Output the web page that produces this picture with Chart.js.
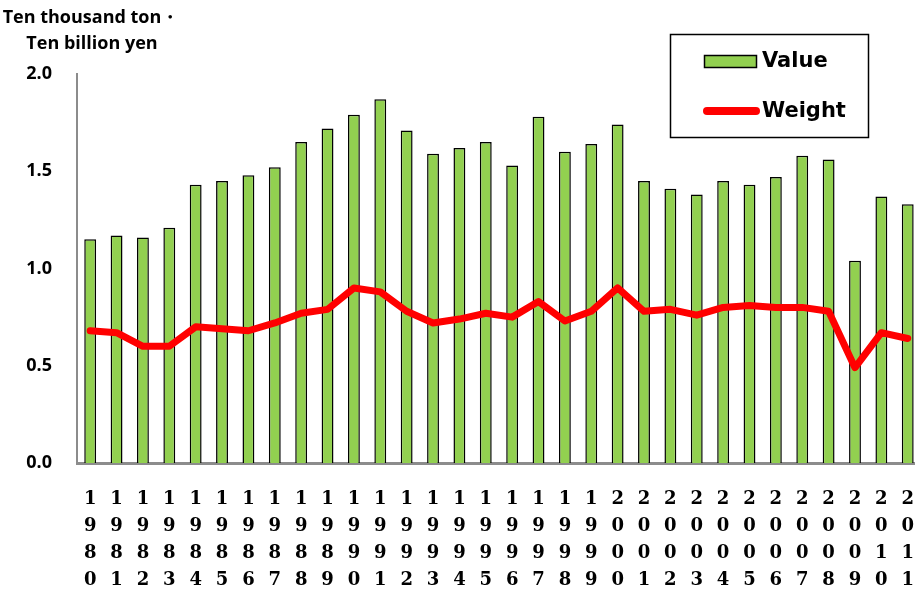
<!DOCTYPE html>
<html>
<head>
<meta charset="utf-8">
<script src="https://cdn.jsdelivr.net/npm/chart.js@4"></script>
<style>
  html, body { margin: 0; padding: 0; background: #fff; overflow: hidden; }
  #wrap { width: 915px; height: 592px; overflow: hidden; }
</style>
</head>
<body>
<div id="wrap"><canvas id="chart" width="929" height="592"></canvas></div>
<script>
const years = ["1980","1981","1982","1983","1984","1985","1986","1987","1988","1989",
    "1990","1991","1992","1993","1994","1995","1996","1997","1998","1999",
    "2000","2001","2002","2003","2004","2005","2006","2007","2008","2009","2010","2011"];
const valueData = [1.15, 1.17, 1.16, 1.21, 1.43, 1.45, 1.48, 1.52, 1.65, 1.72,
    1.79, 1.87, 1.71, 1.59, 1.62, 1.65, 1.53, 1.78, 1.60, 1.64,
    1.74, 1.45, 1.41, 1.38, 1.45, 1.43, 1.47, 1.58, 1.56, 1.04, 1.37, 1.33];
const weightData = [0.68, 0.67, 0.60, 0.60, 0.70, 0.69, 0.68, 0.72, 0.77, 0.79,
    0.90, 0.88, 0.78, 0.72, 0.74, 0.77, 0.75, 0.83, 0.73, 0.78,
    0.90, 0.78, 0.79, 0.76, 0.80, 0.81, 0.80, 0.80, 0.78, 0.49, 0.67, 0.64];
const yTicks = [0, 0.5, 1.0, 1.5, 2.0];
const unitLines = ["Ten thousand ton・", "Ten billion yen"];

// unit text and legend box drawn on top
const extras = {
    id: "extras",
    afterDraw(chart) {
        const c = chart.ctx;
        c.save();
        c.fillStyle = "#000";
        c.font = "bold 18px 'Open Sans', sans-serif";
        c.textAlign = "center";
        c.textBaseline = "middle";
        c.fillText(unitLines[0], 91, 18);
        c.fillText(unitLines[1], 92, 44);

        // legend
        c.lineWidth = 1.5;
        c.strokeStyle = "#000";
        c.strokeRect(670.5, 34.5, 198, 103);
        const bar = chart.data.datasets[1];
        const line = chart.data.datasets[0];
        c.fillStyle = bar.backgroundColor;
        c.fillRect(704, 55, 53, 13);
        c.lineWidth = 1.5;
        c.strokeRect(704.5, 55.5, 52, 12);
        c.strokeStyle = line.borderColor;
        c.lineWidth = 8;
        c.lineCap = "round";
        c.beginPath();
        c.moveTo(707, 111);
        c.lineTo(756, 111);
        c.stroke();
        c.fillStyle = "#000";
        c.font = "bold 21px 'DejaVu Sans', sans-serif";
        c.textAlign = "left";
        c.fillText(bar.label, 762, 62);
        c.fillText(line.label, 762, 112);
        c.restore();
    }
};

new Chart(document.getElementById("chart"), {
    type: "bar",
    data: {
        labels: years.map(y => y.split("")),
        datasets: [{
            type: "line",
            label: "Weight",
            data: weightData,
            borderColor: "#ff0000",
            backgroundColor: "#ff0000",
            borderWidth: 7,
            pointRadius: 0,
            tension: 0,
            borderJoinStyle: "round",
            borderCapStyle: "round",
            order: 0
        }, {
            label: "Value",
            data: valueData,
            backgroundColor: "#92d050",
            borderColor: "#000",
            borderWidth: 1.5,
            barPercentage: 0.45,
            categoryPercentage: 1.0,
            order: 1
        }]
    },
    plugins: [extras],
    options: {
        responsive: false,
        animation: false,
        layout: { padding: { top: 74, left: 0, right: 0, bottom: 0 } },
        plugins: {
            legend: { display: false },
            tooltip: { enabled: false }
        },
        scales: {
            x: {
                grid: { display: false },
                border: { display: true, color: "#8c8c8c", width: 3 },
                ticks: {
                    autoSkip: false,
                    maxRotation: 0,
                    padding: 15,
                    color: "#000",
                    font: { family: "'DejaVu Serif', 'Liberation Serif', serif", weight: "bold", size: 18, lineHeight: 1.5 }
                },
                afterFit(scale) { scale.height = 129; }
            },
            y: {
                min: 0,
                max: 2.0,
                grid: { display: false },
                border: { display: true, color: "#8c8c8c", width: 2 },
                afterBuildTicks(scale) { scale.ticks = yTicks.map(v => ({ value: v })); },
                ticks: {
                    padding: 17,
                    color: "#000",
                    callback: v => v.toFixed(1),
                    font: { family: "'Open Sans', sans-serif", weight: "bold", size: 18 }
                },
                afterFit(scale) { scale.width = 77; }
            }
        }
    }
});
</script>
</body>
</html>
